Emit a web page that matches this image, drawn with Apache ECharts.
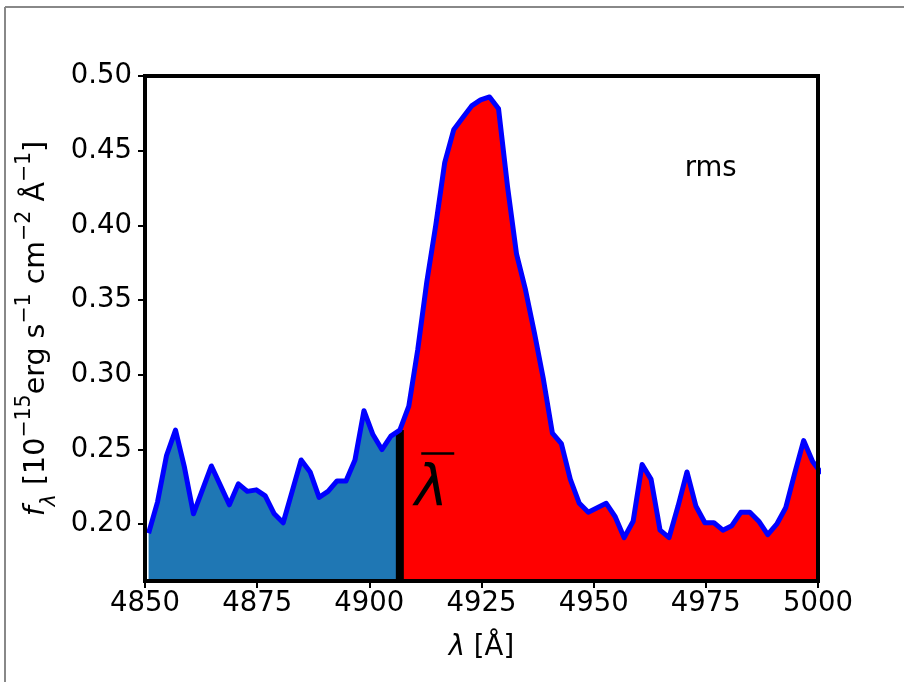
<!DOCTYPE html>
<html>
<head>
<meta charset="utf-8">
<script src="https://cdn.jsdelivr.net/npm/echarts@6/dist/echarts.min.js"></script>
<style>
  html, body { margin: 0; padding: 0; background: #ffffff; }
  #chart { width: 904px; height: 682px; }
</style>
</head>
<body>
<div id="chart"></div>
<script>
// Wavelength grid of the rms spectrum (Å)
const wavelength = [
  4850.8, 4852.8, 4854.8, 4856.8, 4858.8, 4860.8, 4862.8, 4864.8, 4866.8, 4868.8,
  4870.8, 4872.8, 4874.8, 4876.8, 4878.8, 4880.8, 4882.8, 4884.8, 4886.8, 4888.8,
  4890.8, 4892.8, 4894.8, 4896.8, 4898.8, 4900.8, 4902.8, 4904.8, 4906.8, 4908.8,
  4910.8, 4912.8, 4914.8, 4916.8, 4918.8, 4920.8, 4922.8, 4924.8, 4926.8, 4928.8,
  4930.8, 4932.8, 4934.8, 4936.8, 4938.8, 4940.8, 4942.8, 4944.8, 4946.8, 4948.8,
  4950.8, 4952.8, 4954.8, 4956.8, 4958.8, 4960.8, 4962.8, 4964.8, 4966.8, 4968.8,
  4970.8, 4972.8, 4974.8, 4976.8, 4978.8, 4980.8, 4982.8, 4984.8, 4986.8, 4988.8,
  4990.8, 4992.8, 4994.8, 4996.8, 4998.8, 5000.8
];

// rms flux density (10^-15 erg s^-1 cm^-2 Å^-1)
const flux = [
  0.194, 0.215, 0.246, 0.263, 0.238, 0.207, 0.223, 0.239, 0.226, 0.213,
  0.227, 0.222, 0.223, 0.219, 0.207, 0.201, 0.222, 0.243, 0.235, 0.218,
  0.222, 0.229, 0.229, 0.243, 0.276, 0.260, 0.250, 0.259, 0.263, 0.279,
  0.317, 0.362, 0.400, 0.442, 0.464, 0.472, 0.480, 0.484, 0.486, 0.478,
  0.426, 0.381, 0.357, 0.328, 0.297, 0.261, 0.254, 0.230, 0.214, 0.208,
  0.211, 0.214, 0.205, 0.191, 0.202, 0.240, 0.230, 0.196, 0.191, 0.212,
  0.235, 0.212, 0.201, 0.201, 0.196, 0.199, 0.208, 0.208, 0.202, 0.193,
  0.200, 0.211, 0.234, 0.256, 0.242, 0.234
];

// Flux-weighted centroid and the flux there
const lambdaBar = 4906.8;
const lambdaBarFlux = 0.263;

// Axis ranges and tick labels
const xTicks = [4850, 4875, 4900, 4925, 4950, 4975, 5000];
const yTicks = [0.20, 0.25, 0.30, 0.35, 0.40, 0.45, 0.50];
const xRange = [4850, 5000];
const yRange = [0.162, 0.50];

const panelLabel = 'rms';

const FONT = '"DejaVu Sans", "Noto Sans", sans-serif';

const points = wavelength.map((w, i) => [w, flux[i]]);
const bluePart = points.filter(p => p[0] <= lambdaBar);
const redPart = points.filter(p => p[0] >= lambdaBar);

const chart = echarts.init(document.getElementById('chart'), null, { renderer: 'canvas' });

const spine = { show: true, onZero: false, lineStyle: { color: '#000000', width: 4, cap: 'square' } };
const tickStyle = { show: true, inside: false, length: 7, lineStyle: { color: '#000000', width: 2 } };
const labelStyle = { color: '#000000', fontFamily: FONT, fontSize: 27.5 };

const option = {
  animation: false,
  backgroundColor: '#ffffff',
  grid: { left: 145, right: 86, top: 76, bottom: 101, containLabel: false },
  xAxis: [
    {
      type: 'value', position: 'bottom', min: xRange[0], max: xRange[1], interval: 25, z: 10,
      axisLine: spine,
      axisTick: Object.assign({ customValues: xTicks }, tickStyle),
      splitLine: { show: false },
      axisLabel: Object.assign({ margin: 9, customValues: xTicks, formatter: v => String(v) }, labelStyle),
      name: '{it|λ}{t| [Å]}',
      nameLocation: 'middle',
      nameGap: 53,
      nameTextStyle: {
        color: '#000000', fontFamily: FONT, fontSize: 27.5,
        rich: {
          it: { fontFamily: FONT, fontSize: 27.5, fontStyle: 'italic', color: '#000000' },
          t: { fontFamily: FONT, fontSize: 27.5, color: '#000000' }
        }
      }
    },
    {
      type: 'value', position: 'top', min: xRange[0], max: xRange[1], z: 10,
      axisLine: spine, axisTick: { show: false }, axisLabel: { show: false }, splitLine: { show: false }
    }
  ],
  yAxis: [
    {
      type: 'value', position: 'left', min: yRange[0], max: yRange[1], z: 10,
      axisLine: spine,
      axisTick: Object.assign({ customValues: yTicks }, tickStyle),
      splitLine: { show: false },
      axisLabel: Object.assign({ margin: 13, customValues: yTicks, formatter: v => v.toFixed(2) }, labelStyle),
      name: '{it|f}{sub|λ}{t| [10}{sup|−15}{t|erg s}{sup|−1}{t| cm}{sup|−2}{t| Å}{sup|−1}{t|]}',
      nameLocation: 'middle',
      nameRotate: 90,
      nameGap: 79,
      nameTextStyle: {
        color: '#000000', fontFamily: FONT, fontSize: 28.5,
        rich: {
          t: { fontFamily: FONT, fontSize: 28.5, lineHeight: 46, verticalAlign: 'middle', color: '#000000' },
          it: { fontFamily: FONT, fontSize: 28.5, fontStyle: 'italic', lineHeight: 46, verticalAlign: 'middle', color: '#000000' },
          sup: { fontFamily: FONT, fontSize: 20.5, lineHeight: 20, verticalAlign: 'top', color: '#000000' },
          sub: { fontFamily: FONT, fontSize: 20.5, fontStyle: 'italic', lineHeight: 31, verticalAlign: 'bottom', color: '#000000' }
        }
      }
    },
    {
      type: 'value', position: 'right', min: yRange[0], max: yRange[1], z: 10,
      axisLine: spine, axisTick: { show: false }, axisLabel: { show: false }, splitLine: { show: false }
    }
  ],
  series: [
    {
      name: 'blue side', type: 'line', data: bluePart, symbol: 'none', clip: true, z: 1,
      lineStyle: { width: 0, opacity: 0 },
      areaStyle: { color: '#1f77b4', opacity: 1, origin: 'start' }
    },
    {
      name: 'red side', type: 'line', data: redPart, symbol: 'none', clip: true, z: 1,
      lineStyle: { width: 0, opacity: 0 },
      areaStyle: { color: '#ff0000', opacity: 1, origin: 'start' }
    },
    {
      name: 'centroid', type: 'line', data: [[lambdaBar, yRange[0]], [lambdaBar, lambdaBarFlux]],
      symbol: 'none', clip: true, z: 3,
      lineStyle: { color: '#000000', width: 8, cap: 'butt' }
    },
    {
      name: 'spectrum', type: 'line', data: points, symbol: 'none', clip: true, z: 4,
      lineStyle: { color: '#0000ff', width: 5, join: 'round', cap: 'butt' }
    }
  ]
};

chart.setOption(option);

// Annotations placed in data coordinates: the λ̄ symbol and the panel tag
const lamPos = chart.convertToPixel({ gridIndex: 0 }, [4913.8, 0.2225]);
const tagPos = chart.convertToPixel({ gridIndex: 0 }, [4970.3, 0.4378]);

chart.setOption({
  graphic: [
    {
      type: 'line', silent: true, z: 100,
      shape: { x1: 5, y1: 7, x2: 904, y2: 7 },
      style: { stroke: '#888888', lineWidth: 2 }
    },
    {
      type: 'line', silent: true, z: 100,
      shape: { x1: 5, y1: 7, x2: 5, y2: 682 },
      style: { stroke: '#888888', lineWidth: 2 }
    },
    {
      type: 'text', silent: true, z: 100,
      x: lamPos[0], y: lamPos[1],
      style: {
        text: 'λ', fill: '#000000',
        font: 'italic 56px ' + FONT,
        textAlign: 'center', textVerticalAlign: 'middle'
      }
    },
    {
      type: 'line', silent: true, z: 100,
      shape: { x1: lamPos[0] - 10, y1: lamPos[1] - 37, x2: lamPos[0] + 23, y2: lamPos[1] - 37 },
      style: { stroke: '#000000', lineWidth: 2.5 }
    },
    {
      type: 'text', silent: true, z: 100,
      x: tagPos[0], y: tagPos[1],
      style: {
        text: panelLabel, fill: '#000000',
        font: '27.5px ' + FONT,
        textAlign: 'left', textVerticalAlign: 'middle'
      }
    }
  ]
});
</script>
</body>
</html>
